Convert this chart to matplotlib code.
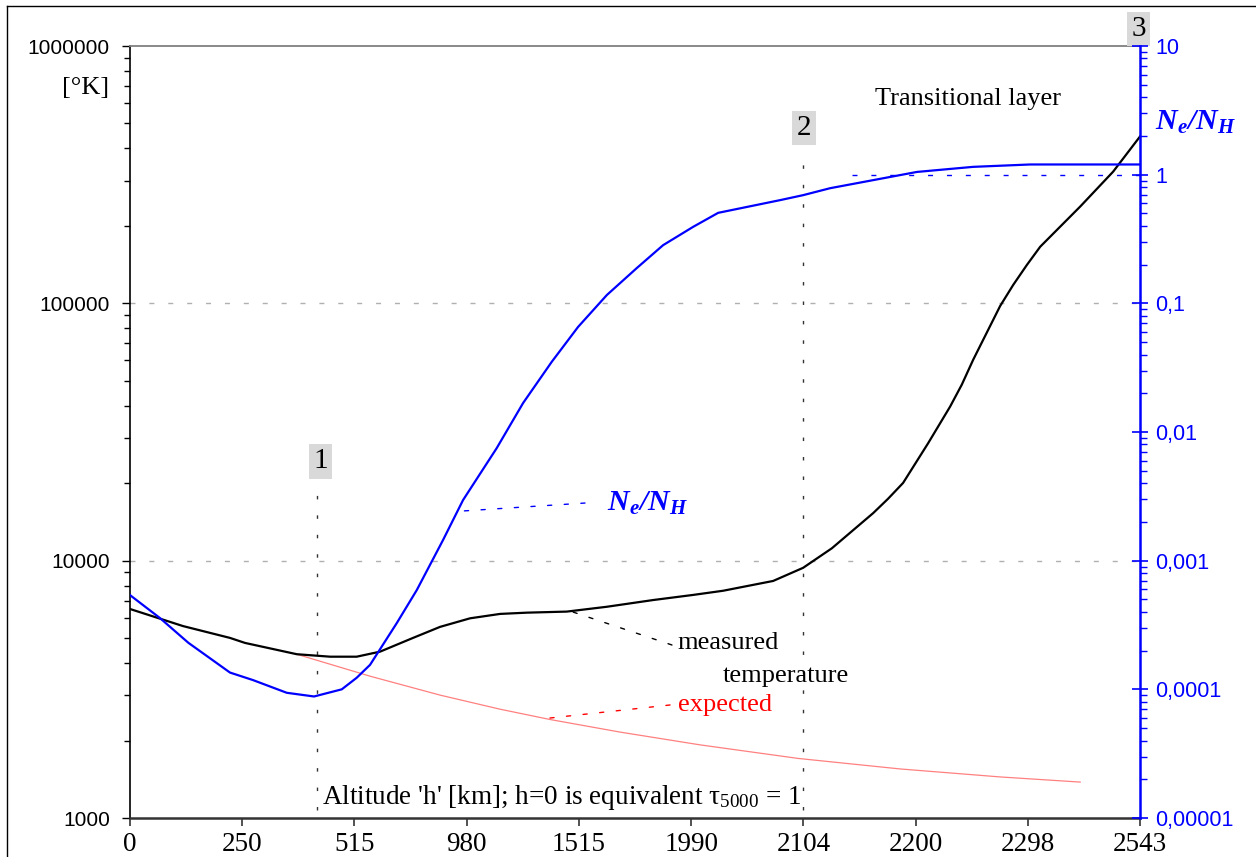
import matplotlib
matplotlib.use("Agg")
import matplotlib.pyplot as plt
from matplotlib.lines import Line2D
from matplotlib.ticker import FixedLocator, LogLocator, NullFormatter

plt.rcParams['mathtext.fontset'] = 'custom'
plt.rcParams['mathtext.rm'] = 'Liberation Serif'
plt.rcParams['mathtext.it'] = 'Liberation Serif:italic'
plt.rcParams['mathtext.bf'] = 'Liberation Serif:bold:italic'

SERIF = 'Liberation Serif'
SANS = 'Liberation Sans'

# category axis: altitude labels shown at positions 0..9
alt_labels = ['0', '250', '515', '980', '1515', '1990', '2104', '2200', '2298', '2543']

# measured temperature [K] (position on category axis, value)
temp_pos = [0.0, 0.472, 0.891, 1.025, 1.486, 1.783, 2.020, 2.228, 2.522, 2.763,
            3.030, 3.298, 3.536, 3.892, 4.249, 4.661, 5.018, 5.285, 5.731, 5.998,
            6.254, 6.622, 6.755, 6.889, 7.112, 7.308, 7.412, 7.513, 7.754, 7.870,
            7.992, 8.111, 8.467, 8.761, 9.0]
temp_val = [6490, 5570, 5010, 4790, 4330, 4235, 4235, 4430, 5010, 5530,
            5970, 6210, 6280, 6340, 6620, 7030, 7360, 7640, 8340, 9380,
            11170, 15300, 17400, 20050, 28600, 39700, 48300, 60300, 97700, 117900,
            141000, 166000, 237700, 325000, 445000]

# expected temperature [K]
exp_pos = [1.488, 2.139, 2.763, 3.298, 3.743, 4.367, 5.080, 5.954, 6.863, 7.754, 8.467]
exp_val = [4326, 3557, 3003, 2647, 2414, 2157, 1924, 1704, 1551, 1444, 1379]

# ionisation ratio Ne/NH (right axis)
ne_pos = [0.0, 0.267, 0.52, 0.891, 1.096, 1.397, 1.640, 1.887, 2.020, 2.139,
          2.377, 2.555, 2.790, 2.968, 3.268, 3.503, 3.758, 3.993, 4.249, 4.516,
          4.750, 5.018, 5.241, 5.793, 5.998, 6.239, 7.012, 7.513, 8.021, 9.0]
ne_val = [5.4e-4, 3.58e-4, 2.30e-4, 1.35e-4, 1.18e-4, 9.4e-5, 8.8e-5, 1.0e-4, 1.23e-4, 1.55e-4,
          3.27e-4, 5.9e-4, 1.45e-3, 2.96e-3, 7.5e-3, 0.0168, 0.0351, 0.0656, 0.116, 0.188,
          0.283, 0.393, 0.505, 0.634, 0.693, 0.785, 1.05, 1.15, 1.20, 1.20]

left_ticks = [1e3, 1e4, 1e5, 1e6]
left_labels = ['1000', '10000', '100000', '1000000']
right_ticks = [1e-5, 1e-4, 1e-3, 1e-2, 1e-1, 1, 10]
right_labels = ['0,00001', '0,0001', '0,001', '0,01', '0,1', '1', '10']

BLUE = '#0000ff'

fig = plt.figure(figsize=(12.56, 8.57), dpi=100)
ax = fig.add_axes([130 / 1256, 39 / 857, 1010 / 1256, 772 / 857])

ax.set_yscale('log')
ax.set_ylim(1e3, 1e6)
ax.set_xlim(0, 9)

ax.plot(exp_pos, exp_val, color='#ff8080', lw=0.9, zorder=3)
ax.plot(temp_pos, temp_val, color='black', lw=1.6, zorder=4)

# reference grid
for v in (1e4, 1e5):
    ax.axhline(v, color='#b0b0b0', lw=1, ls=(0, (3.6, 10)), zorder=1)

# markers 1 and 2
ax.axvline(1.667, ymin=0.01, ymax=0.421, color='#333333', lw=1, ls=(0, (2.5, 11.5)), zorder=2)
ax.axvline(6.0, ymin=0.01, ymax=0.856, color='#333333', lw=1, ls=(0, (2.5, 11.5)), zorder=2)

ax.yaxis.set_major_locator(FixedLocator(left_ticks))
ax.set_yticklabels(left_labels, fontfamily=SANS, fontsize=15)
ax.yaxis.set_minor_locator(LogLocator(base=10, subs=range(2, 10), numticks=20))
ax.yaxis.set_minor_formatter(NullFormatter())
ax.set_xticks(range(len(alt_labels)))
ax.set_xticklabels(alt_labels, fontfamily=SERIF, fontsize=19.5)

ax.tick_params(axis='y', which='major', direction='out', length=6, width=1, pad=8.5)
ax.tick_params(axis='y', which='minor', direction='out', length=4, width=1)
ax.tick_params(axis='x', direction='out', length=6, width=1.2, pad=4, color='#333333')

ax.spines['left'].set_linewidth(1.2)
ax.spines['bottom'].set_linewidth(1.8)
ax.spines['bottom'].set_color('#333333')
ax.spines['top'].set_color('#808080')
ax.spines['top'].set_linewidth(1.3)
ax.spines['right'].set_visible(False)

ax2 = ax.twinx()
ax2.set_yscale('log')
ax2.set_ylim(1e-5, 10)
ax2.plot(ne_pos, ne_val, color=BLUE, lw=1.6, zorder=5)
ax2.hlines(1, 6.43, 9, color=BLUE, lw=1, linestyles=(0, (3.6, 10)))

ax2.yaxis.set_major_locator(FixedLocator(right_ticks))
ax2.set_yticklabels(right_labels, fontfamily=SANS, fontsize=15.5, color=BLUE)
ax2.yaxis.set_minor_locator(LogLocator(base=10, subs=range(2, 10), numticks=20))
ax2.yaxis.set_minor_formatter(NullFormatter())
ax2.tick_params(axis='y', which='major', direction='inout', length=12, width=1.2, colors=BLUE, pad=5)
ax2.tick_params(axis='y', which='minor', direction='out', length=5, width=1, colors=BLUE)
for s in ('left', 'top', 'bottom'):
    ax2.spines[s].set_visible(False)
ax2.spines['right'].set_color(BLUE)
ax2.spines['right'].set_linewidth(1.8)

# texts
ax.text(-0.0436, 0.9456, '[°K]', transform=ax.transAxes, ha='center', va='center',
        fontfamily=SERIF, fontsize=19)
ax.text(0.7376, 0.9313, 'Transitional layer', transform=ax.transAxes, ha='left', va='center',
        fontfamily=SERIF, fontsize=19)
ax.text(1.0149, 0.9016, r'$\mathbf{N_e/N_H}$', transform=ax.transAxes, ha='left', va='center',
        fontsize=21.5, color=BLUE)
ax.text(0.4723, 0.4093, r'$\mathbf{N_e/N_H}$', transform=ax.transAxes, ha='left', va='center',
        fontsize=21.5, color=BLUE)
ax.text(0.5416, 0.2267, 'measured', transform=ax.transAxes, ha='left', va='center',
        fontfamily=SERIF, fontsize=19)
ax.text(0.5871, 0.1839, 'temperature', transform=ax.transAxes, ha='left', va='center',
        fontfamily=SERIF, fontsize=19)
ax.text(0.5426, 0.1464, 'expected', transform=ax.transAxes, ha='left', va='center',
        fontfamily=SERIF, fontsize=19, color='#ff0000')
ax.text(0.1901, 0.0272, r"Altitude 'h' [km]; h=0 is equivalent $\mathrm{\tau_{5000}}$ = 1",
        transform=ax.transAxes, ha='left', va='center', fontfamily=SERIF, fontsize=19.5)

# leader lines
leaders = [((0.3297, 0.3977), (0.4505, 0.4080), BLUE),
           ((0.4386, 0.2668), (0.5366, 0.2241), 'black'),
           ((0.4158, 0.1295), (0.5347, 0.1464), '#ff0000')]
for p0, p1, c in leaders:
    ax.annotate('', xy=p0, xytext=p1, xycoords='axes fraction', textcoords='axes fraction',
                arrowprops=dict(arrowstyle='-', color=c, lw=1, linestyle=(0, (3, 9)),
                                shrinkA=0, shrinkB=0))

# numbered boxes
for lab, fx, fy in (('1', 0.1886, 0.4618), ('2', 0.6673, 0.8938), ('3', 0.9985, 1.022)):
    ax.text(fx, fy, lab, transform=ax.transAxes, ha='center', va='center', fontfamily=SERIF,
            fontsize=21, clip_on=False, zorder=6,
            bbox=dict(boxstyle='square,pad=0.15', fc='#d9d9d9', ec='none'))

# outer frame (left and top edges visible)
fig.add_artist(Line2D([7 / 1256, 7 / 1256], [0, 1 - 6 / 857], transform=fig.transFigure,
                      color='black', lw=1))
fig.add_artist(Line2D([7 / 1256, 1], [1 - 6 / 857, 1 - 6 / 857], transform=fig.transFigure,
                      color='black', lw=1))

fig.savefig('out.png', dpi=100)
